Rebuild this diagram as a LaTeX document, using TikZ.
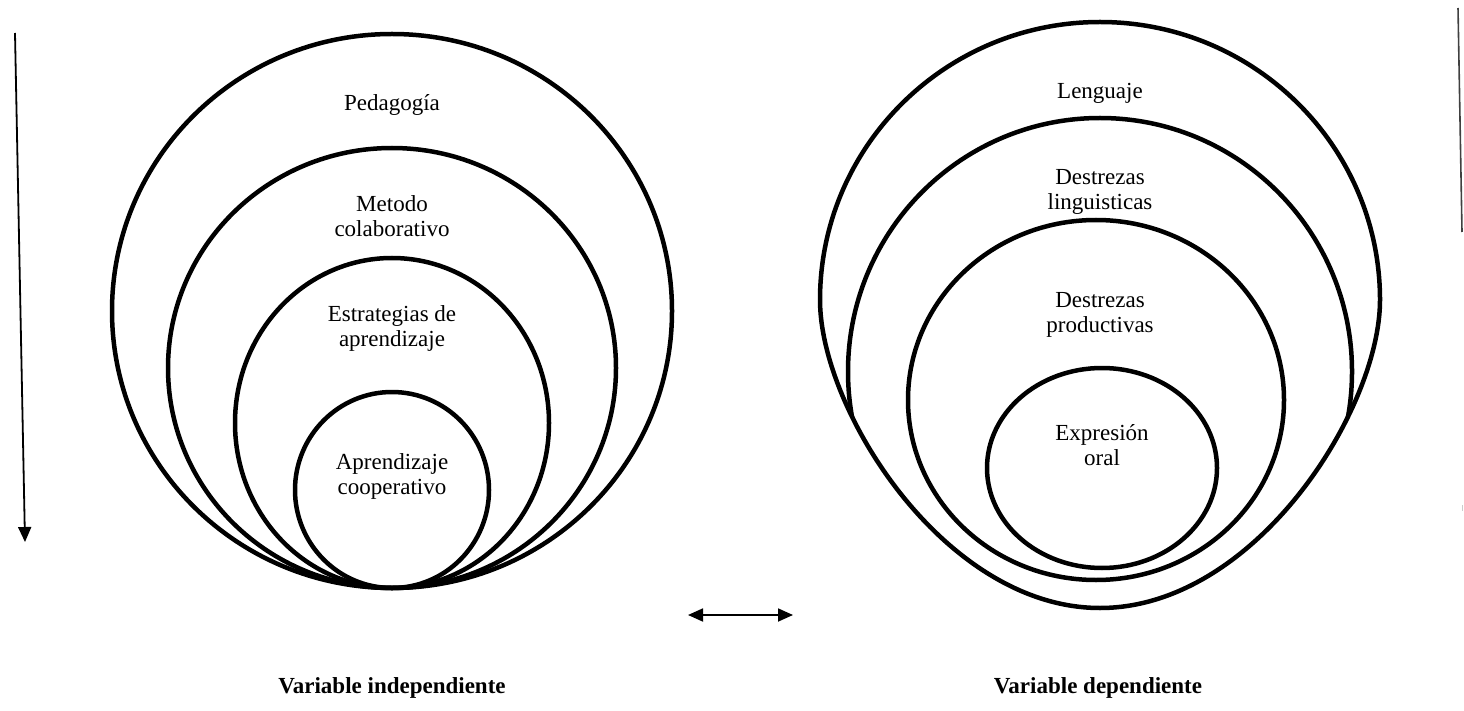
\documentclass[tikz,border=0pt]{standalone}
\usepackage{fontspec}
\setmainfont{Liberation Serif}
\usetikzlibrary{arrows.meta}
\begin{document}
\begin{tikzpicture}[x=1pt,y=-1pt,
  ring/.style={draw=black,line width=4.5pt},
  lbl/.style={font=\fontsize{23}{25}\selectfont,align=center,inner sep=0pt},
  ttl/.style={font=\fontsize{23}{26}\selectfont\bfseries,inner sep=0pt},
  arr/.style={line width=1.8pt,-{Triangle[width=13pt,length=15pt]}},
  darr/.style={line width=1.8pt,{Triangle[width=13pt,length=15pt]}-{Triangle[width=13pt,length=15pt]}}]
\useasboundingbox (0,0) rectangle (1464,711);
% ---------- left group ----------
\draw[ring] (392,311) ellipse [x radius=280, y radius=277];
\draw[ring] (392,368) ellipse [x radius=224, y radius=220];
\draw[ring] (392,423) ellipse [x radius=157, y radius=165];
\draw[ring] (392,490) ellipse [x radius=97, y radius=98];
\node[lbl] (ped) at (392,105) {Pedagogía};
\node[lbl] (met) at (392,216) {Metodo\\colaborativo};
\node[lbl] (est) at (392,328) {Estrategias de\\aprendizaje};
\node[lbl] (apr) at (392,476) {Aprendizaje\\cooperativo};
% ---------- right group ----------
\def\routerpath{(1100,22) .. controls (945,22) and (820,147) .. (820,300) .. controls (820,410) and (945,608) .. (1100,608) .. controls (1255,608) and (1380,410) .. (1380,300) .. controls (1380,147) and (1255,22) .. (1100,22) -- cycle}
\draw[ring] \routerpath;
\begin{scope}
  \clip \routerpath;
  \draw[ring] (1100,371.5) ellipse [x radius=252, y radius=253.5];
\end{scope}
\draw[ring] (1096,400) ellipse [x radius=188, y radius=180];
\draw[ring] (1102,468) ellipse [x radius=115, y radius=100];
\node[lbl] (len) at (1100,93) {Lenguaje};
\node[lbl] (dli) at (1100,192) {Destrezas\\linguisticas};
\node[lbl] (dpr) at (1100,315) {Destrezas\\productivas};
\node[lbl] (exp) at (1102,445) {Expresión\\oral};
% ---------- arrows and labels ----------
\coordinate (a1) at (15,33);
\coordinate (a2) at (25,542);
\draw[arr] (a1) -- (a2);
\coordinate (b1) at (688,615);
\coordinate (b2) at (793,615);
\draw[darr] (b1) -- (b2);
\coordinate (c1) at (1458,8);
\coordinate (c2) at (1462,232);
\draw[black!75,line width=1.6pt] (c1) -- (c2);
\coordinate (d1) at (1462,505);
\coordinate (d2) at (1462,511);
\draw[black!20,line width=1pt] (d1) -- (d2);
\node[ttl] (vi) at (392,688) {Variable independiente};
\node[ttl] (vd) at (1098,688) {Variable dependiente};
\end{tikzpicture}
\end{document}
